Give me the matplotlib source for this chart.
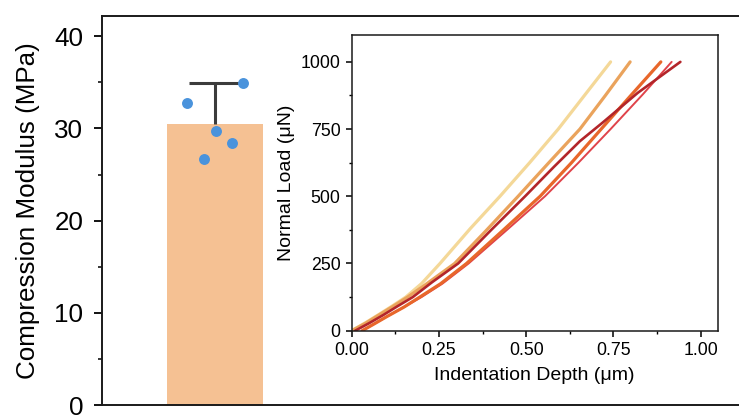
import matplotlib
matplotlib.use("Agg")
import matplotlib.pyplot as plt
from matplotlib.ticker import MultipleLocator, FormatStrFormatter

plt.rcParams['font.family'] = ['Liberation Sans', 'DejaVu Sans']

# ---- main bar chart data ----
bar_positions = [0]
bar_means = [30.5]
bar_errors = [4.4]
point_values = [32.8, 34.9, 29.7, 28.4, 26.7]
point_jitter = [-0.234, 0.234, 0.006, 0.143, -0.089]

# ---- inset load-depth curves ----
light_x = [0.00, 0.04, 0.08, 0.12, 0.155, 0.20, 0.253, 0.34, 0.425, 0.51, 0.592, 0.667, 0.742]
light_y = [0, 30, 62, 95, 125, 175, 250, 380, 500, 625, 750, 875, 1000]

orange_x = [0.00, 0.04, 0.08, 0.12, 0.16, 0.21, 0.295, 0.385, 0.477, 0.565, 0.654, 0.727, 0.798]
orange_y = [0, 28, 60, 92, 125, 170, 250, 372, 500, 625, 750, 875, 1000]

orangered_x = [0.03, 0.06, 0.10, 0.15, 0.195, 0.255, 0.329, 0.435, 0.540, 0.63, 0.715, 0.80, 0.886]
orangered_y = [0, 22, 52, 88, 125, 175, 250, 375, 500, 625, 750, 875, 1000]

red_x = [0.03, 0.06, 0.10, 0.15, 0.20, 0.26, 0.335, 0.445, 0.554, 0.65, 0.742, 0.835, 0.917]
red_y = [0, 22, 52, 88, 125, 175, 250, 375, 500, 625, 750, 880, 1000]

darkred_x = [0.01, 0.05, 0.09, 0.13, 0.175, 0.23, 0.305, 0.40, 0.497, 0.58, 0.654, 0.72, 0.82, 0.942]
darkred_y = [0, 28, 58, 90, 125, 180, 250, 375, 500, 610, 705, 775, 885, 1000]

fig = plt.figure(figsize=(7.39, 4.15), dpi=100)

# main axes (extends beyond right edge, as in the cropped reference)
ax = fig.add_axes([102/739, 10/415, 1.0, 389/415])
ax.bar(bar_positions, bar_means, width=0.8, color='#f5c193', zorder=1)
eb = ax.errorbar(bar_positions, bar_means, yerr=[[0], bar_errors], fmt='none',
                 ecolor='#3c3c3c', elinewidth=2.2, capsize=18.4, capthick=2.2, zorder=2)
# keep only the upper cap
eb[1][0].remove()
ax.scatter([bar_positions[0] + j for j in point_jitter], point_values,
           s=62, color='#4a93dc', zorder=3, linewidths=0)
ax.set_xlim(-0.935, 5.18)
ax.set_ylim(0, 42.2)
ax.yaxis.set_major_locator(MultipleLocator(10))
ax.yaxis.set_minor_locator(MultipleLocator(5))
ax.set_xticks([])
ax.tick_params(axis='y', which='major', length=5.5, width=1.3, labelsize=18.7, pad=8, direction='out')
ax.tick_params(axis='y', which='minor', length=3, width=1.1, direction='out')
for s in ['left', 'top', 'bottom']:
    ax.spines[s].set_linewidth(1.4)
    ax.spines[s].set_color('#1a1a1a')
ax.spines['right'].set_visible(False)
ax.set_ylabel('Compression Modulus (MPa)', fontsize=18.7, labelpad=10)

# inset axes
ins = fig.add_axes([351.7/739, (415-330.7)/415, 366/739, 295.7/415])
ins.plot(light_x, light_y, color='#f4d898', lw=2.3, solid_capstyle='round')
ins.plot(orange_x, orange_y, color='#eaa35c', lw=2.3, solid_capstyle='round')
ins.plot(red_x, red_y, color='#e0434a', lw=1.4, solid_capstyle='round')
ins.plot(orangered_x, orangered_y, color='#e8672b', lw=2.3, solid_capstyle='round')
ins.plot(darkred_x, darkred_y, color='#b3252a', lw=1.9, solid_capstyle='round')
ins.set_xlim(0, 1.049)
ins.set_ylim(0, 1100)
ins.xaxis.set_major_locator(MultipleLocator(0.25))
ins.xaxis.set_minor_locator(MultipleLocator(0.125))
ins.yaxis.set_major_locator(MultipleLocator(250))
ins.yaxis.set_minor_locator(MultipleLocator(125))
ins.xaxis.set_major_formatter(FormatStrFormatter('%.2f'))
ins.tick_params(which='major', length=4.5, width=1.1, labelsize=12.8, pad=3.5, direction='out')
ins.tick_params(which='minor', length=2.5, width=1.0, direction='out')
for s in ins.spines.values():
    s.set_linewidth(1.1)
    s.set_color('#1a1a1a')
ins.set_xlabel('Indentation Depth (μm)', fontsize=14, labelpad=6)
ins.set_ylabel('Normal Load (μN)', fontsize=14, labelpad=4)

fig.savefig('out.png', dpi=100)
